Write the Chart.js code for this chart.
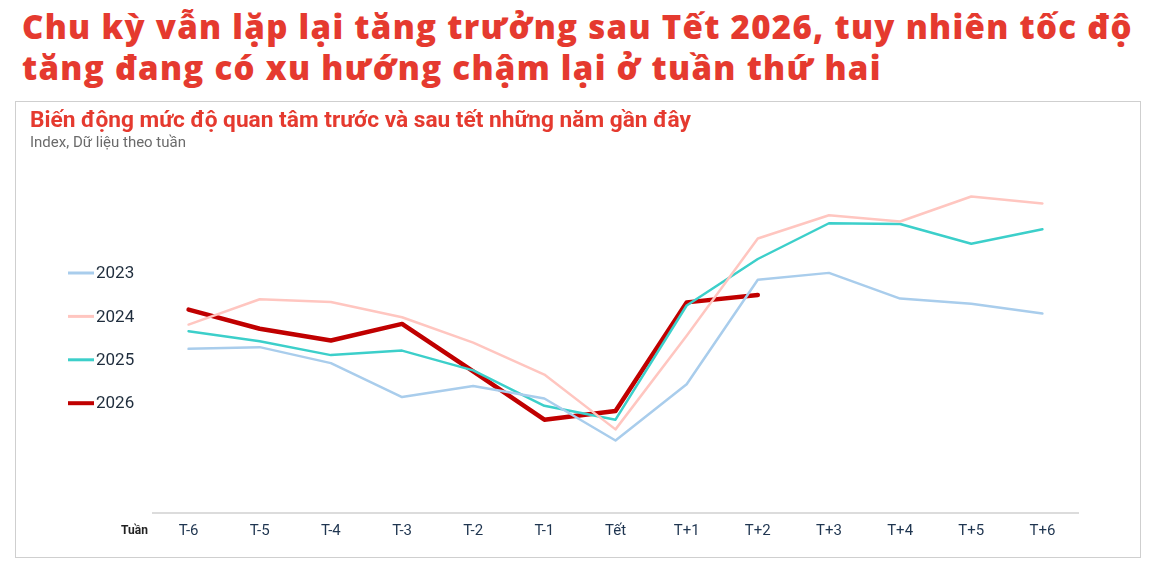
<!DOCTYPE html>
<html>
<head>
<meta charset="utf-8">
<script src="https://cdn.jsdelivr.net/npm/chart.js@4"></script>
<style>
  body { margin:0; background:#fff; width:1170px; height:578px; overflow:hidden; position:relative; font-family: Roboto, "Noto Sans", sans-serif; }
  #title { position:absolute; left:22px; top:6px; margin:0; font-family: "Open Sans", sans-serif; font-weight:800; font-size:33px; letter-spacing:1.3px; line-height:41px; color:#e53a2f; white-space:nowrap; }
  #box { position:absolute; left:15px; top:101px; width:1124px; height:455px; border:1.5px solid #cfcfcf; }
  #sub1 { position:absolute; left:14px; top:4px; font-weight:700; font-size:22.7px; color:#e53a2f; white-space:nowrap; }
  #sub2 { position:absolute; left:14px; top:31px; font-size:15px; color:#6b6b6b; white-space:nowrap; }
  #wrap { position:absolute; left:0; top:0; width:1124px; height:455px; }
</style>
</head>
<body>
<h1 id="title">Chu kỳ vẫn lặp lại tăng trưởng sau Tết 2026, tuy nhiên tốc độ<br>tăng đang có xu hướng chậm lại ở tuần thứ hai</h1>
<div id="box">
  <div id="wrap"><canvas id="myChart"></canvas></div>
  <div id="sub1">Biến động mức độ quan tâm trước và sau tết những năm gần đây</div>
  <div id="sub2">Index, Dữ liệu theo tuần</div>
</div>
<script>
// weeks around Tet
var weeks = ['T-6','T-5','T-4','T-3','T-2','T-1','Tết','T+1','T+2','T+3','T+4','T+5','T+6'];

// index values (no axis shown, 0-100 scale)
var y2023 = [47.3, 47.8, 43.2, 33.4, 36.6, 33.0, 20.9, 37.1, 67.2, 69.2, 61.8, 60.3, 57.5];
var y2024 = [54.3, 61.6, 60.8, 56.4, 49.1, 39.9, 24.1, 51.1, 79.1, 85.8, 84.0, 91.2, 89.2];
var y2025 = [52.4, 49.5, 45.5, 46.8, 41.1, 30.9, 26.9, 59.8, 73.2, 83.5, 83.3, 77.6, 81.8];
var y2026 = [58.6, 53.1, 49.7, 54.5, 40.8, 26.9, 29.4, 60.7, 62.8, null, null, null, null];

var sideLegend = {
  id: 'sideLegend',
  afterDraw: function(chart){
    var c = chart.ctx;
    c.save();
    chart.data.datasets.forEach(function(ds, i){
      var y = 171 + i*43.4;
      c.strokeStyle = ds.borderColor;
      c.lineWidth = i == 3 ? 4 : 3;
      c.beginPath(); c.moveTo(52, y); c.lineTo(78, y); c.stroke();
      c.fillStyle = '#1f2d3d';
      c.font = '17px Roboto';
      c.textBaseline = 'middle';
      c.fillText(ds.label, 80, y + 1);
    });
    c.font = 'bold 12px Roboto';
    c.fillStyle = '#222';
    c.fillText('Tuần', 105, 429);
    c.restore();
  }
};

window.onload = function(){
  var ctx = document.getElementById('myChart');
  new Chart(ctx, {
    type: 'line',
    data: {
      labels: weeks,
      datasets: [
        { label: '2023', data: y2023, borderColor: '#a9cdec', borderWidth: 2.5 },
        { label: '2024', data: y2024, borderColor: '#ffc6c0', borderWidth: 2.5 },
        { label: '2025', data: y2025, borderColor: '#3ccfca', borderWidth: 2.5 },
        { label: '2026', data: y2026, borderColor: '#c00000', borderWidth: 4.5 }
      ]
    },
    options: {
      responsive: true,
      maintainAspectRatio: false,
      animation: false,
      layout: { padding: { left: 137, right: 62, top: 64, bottom: 8 } },
      elements: { point: { radius: 0 }, line: { tension: 0, borderCapStyle: 'round', borderJoinStyle: 'round' } },
      plugins: { legend: { display: false }, tooltip: { enabled: false } },
      scales: {
        x: {
          offset: true,
          grid: { display: false, drawTicks: false },
          border: { display: true, color: '#dcdcdc', width: 2 },
          ticks: { color: '#1f3550', font: { size: 15, family: 'Roboto' }, padding: 9 }
        },
        y: { display: false, min: 0, max: 100 }
      }
    },
    plugins: [sideLegend]
  });
};
</script>
</body>
</html>
